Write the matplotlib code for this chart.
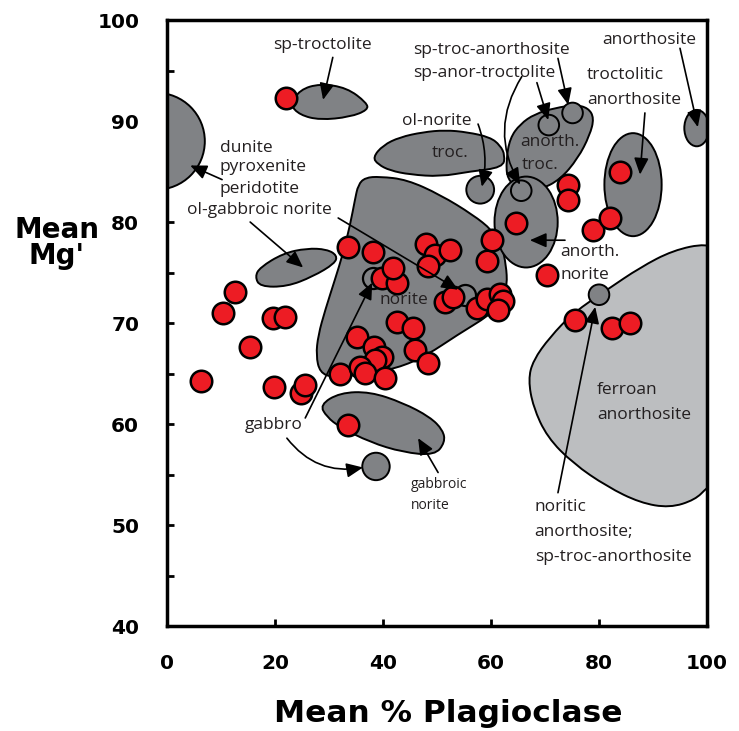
import numpy as np
import matplotlib
matplotlib.use('Agg')
from matplotlib import pyplot as plt
from matplotlib.path import Path
from matplotlib.patches import PathPatch, Ellipse

# red sample points: mean % plagioclase vs mean Mg'
plag = [22.1, 6.3, 10.4, 12.6, 15.4, 19.6, 21.9, 19.8, 24.8, 25.6, 32.0, 33.5,
        33.5, 38.1, 39.8, 42.6, 41.9, 35.2, 38.3, 39.8, 38.5, 35.7, 36.7, 40.4,
        42.6, 45.6, 45.9, 48.3, 48.0, 49.6, 52.4, 48.3, 51.5, 53.0, 57.4, 59.3,
        61.7, 62.2, 61.3, 59.3, 60.2, 64.6, 70.4, 74.3, 74.3, 78.9, 82.0, 83.9,
        75.6, 82.4, 85.7]
mg = [92.3, 64.3, 71.0, 73.1, 67.6, 70.5, 70.6, 63.7, 63.1, 63.9, 65.0, 59.9,
      77.5, 77.0, 74.5, 74.0, 75.4, 68.6, 67.6, 66.6, 66.3, 65.6, 65.1, 64.6,
      70.1, 69.5, 67.3, 66.0, 77.8, 76.7, 77.2, 75.6, 72.1, 72.6, 71.5, 72.4,
      72.9, 72.2, 71.3, 76.1, 78.2, 79.9, 74.8, 83.7, 82.2, 79.2, 80.4, 85.0,
      70.3, 69.5, 70.0]

# rock-type fields (outline vertices, data units)
ferroan_x = [100.0, 93.7, 87.6, 81.5, 75.2, 70.9, 67.8, 66.9, 67.8, 70.4, 75.2,
             81.5, 87.6, 93.1, 97.8, 100.0, 103, 103]
ferroan_y = [77.9, 77.2, 75.5, 73.3, 71.0, 68.6, 66.3, 64.4, 61.7, 58.7, 56.1,
             53.8, 52.2, 51.7, 52.5, 53.7, 55, 77]
norite_x = [35.4, 36.7, 39.4, 44.4, 50.6, 56.7, 60.2, 62.0, 62.8, 63.0, 62.2,
            59.8, 53.7, 48.1, 42.6, 35.7, 30.7, 28.3, 27.6, 28.0, 29.3, 31.1,
            32.6, 33.9, 34.8]
norite_y = [83.7, 84.4, 84.5, 84.2, 82.7, 80.7, 79.2, 77.7, 75.7, 73.8, 72.1,
            70.8, 68.8, 66.8, 65.5, 64.9, 64.6, 65.1, 66.8, 68.8, 71.3, 74.3,
            76.9, 79.7, 82.2]
troc_x = [38.1, 40.0, 43.1, 47.4, 51.5, 55.6, 59.8, 61.7, 62.6, 62.2, 56.1,
          50.6, 45.0, 41.3, 39.1]
troc_y = [86.4, 87.6, 88.4, 88.9, 89.1, 88.9, 88.4, 87.6, 86.6, 85.4, 85.0,
          84.5, 84.7, 85.1, 85.7]
antroc_x = [63.0, 62.8, 63.5, 65.4, 68.1, 71.9, 75.6, 78.0, 79.1, 78.3, 76.1,
            72.8, 69.1, 65.4]
antroc_y = [84.2, 86.1, 88.3, 89.7, 90.7, 91.3, 91.6, 91.3, 90.3, 88.6, 86.3,
            84.2, 83.2, 83.2]
sptroc_x = [22.8, 24.6, 28.3, 33.3, 37.0, 37.2, 33.9, 28.3, 24.6]
sptroc_y = [91.6, 93.1, 93.7, 93.3, 91.8, 91.1, 90.4, 90.1, 90.6]
olgab_x = [16.3, 17.2, 21.5, 25.9, 29.6, 31.5, 31.1, 27.0, 22.2, 17.2]
olgab_y = [74.6, 75.5, 76.9, 77.4, 77.3, 76.7, 75.9, 74.6, 73.6, 73.6]
gabnor_x = [28.3, 32.0, 37.6, 43.7, 48.7, 51.1, 51.5, 49.6, 43.7, 37.6, 32.0, 29.6]
gabnor_y = [61.9, 63.1, 63.2, 62.1, 60.7, 59.4, 58.2, 56.9, 57.2, 58.2, 59.7, 60.7]

# small circular fields: x, y, size
small_x = [58.0, 38.7, 80.0, 75.1, 70.7, 65.6]
small_y = [83.2, 55.8, 72.8, 90.8, 89.6, 83.1]
small_s = [400, 390, 220, 220, 220, 220]

dark = '#808285'
light = '#bcbec0'
red = '#ed1c24'


def smooth_patch(xs, ys, **kw):
    pts = np.column_stack([xs, ys])
    mids = (pts + np.roll(pts, -1, axis=0)) / 2
    verts = [mids[-1]]
    codes = [Path.MOVETO]
    for i in range(len(pts)):
        verts += [pts[i], mids[i]]
        codes += [Path.CURVE3, Path.CURVE3]
    return PathPatch(Path(verts, codes), **kw)


fig = plt.figure(figsize=(7.39, 7.31), dpi=100)
ax = fig.add_axes([0.226, 0.1436, 0.7307, 0.829])
ax.set_xlim(0, 100)
ax.set_ylim(40, 100)

kw = dict(edgecolor='black', linewidth=1.4, zorder=2)
ax.add_patch(smooth_patch(ferroan_x, ferroan_y, facecolor=light, **kw))
ax.add_patch(Ellipse((-2, 88), 18, 9.6, facecolor=dark, **kw))
ax.add_patch(smooth_patch(sptroc_x, sptroc_y, facecolor=dark, **kw))
ax.add_patch(smooth_patch(olgab_x, olgab_y, facecolor=dark, **kw))
ax.add_patch(smooth_patch(gabnor_x, gabnor_y, facecolor=dark, **kw))
ax.add_patch(smooth_patch(troc_x, troc_y, facecolor=dark, **kw))
ax.add_patch(smooth_patch(norite_x, norite_y, facecolor=dark, **kw))
ax.add_patch(smooth_patch(antroc_x, antroc_y, facecolor=dark, **kw))
ax.add_patch(Ellipse((66.5, 80.0), 11.7, 9.0, facecolor=dark, **kw))
ax.add_patch(Ellipse((86.3, 83.7), 10.6, 10.2, facecolor=dark, **kw))
ax.add_patch(Ellipse((98.1, 89.3), 4.6, 3.6, facecolor=dark, **kw))

ax.scatter(small_x, small_y, s=small_s, facecolor=dark, edgecolor='black',
           linewidth=1.4, zorder=3)
ax.scatter([38.1, 55.2], [74.5, 72.8], s=230, facecolor=dark,
           edgecolor='black', linewidth=1.6, zorder=3)
ax.scatter(plag, mg, s=240, facecolor=red, edgecolor='black', linewidth=1.8,
           zorder=4)

# arrows from labels to fields
arrows = [
    ((30.7, 96.3), (28.9, 92.1), 0),
    ((10.2, 84.2), (4.3, 85.6), 0),
    ((15.4, 80.0), (25.2, 75.5), 0),
    ((31.7, 80.4), (53.9, 73.3), 0),
    ((25.6, 60.6), (38.0, 74.0), 0),
    ((22.2, 58.6), (36.3, 55.7), 0.3),
    ((50.2, 55.2), (46.5, 58.6), 0),
    ((57.6, 89.7), (58.3, 83.5), -0.15),
    ((65.7, 94.4), (65.4, 83.7), 0.3),
    ((68.5, 93.8), (70.6, 90.1), 0),
    ((72.4, 96.2), (74.3, 91.6), 0),
    ((95.0, 97.2), (98.3, 89.4), 0),
    ((88.5, 90.8), (87.6, 84.7), 0),
    ((73.7, 78.2), (67.2, 78.2), 0),
    ((72.4, 53.2), (79.3, 71.6), 0),
]
for start, end, rad in arrows:
    ax.annotate('', xy=end, xytext=start, zorder=5,
                arrowprops=dict(arrowstyle='-|>,head_length=0.5,head_width=0.22',
                                color='black', lw=1.2, mutation_scale=20,
                                shrinkA=0, shrinkB=0,
                                connectionstyle='arc3,rad=%s' % rad))

tf = dict(family='Open Sans', fontsize=12.5, color='#231f20', va='center',
          zorder=6)
ax.text(28.7, 97.5, 'sp-troctolite', ha='center', **tf)
ax.text(45.6, 97.0, 'sp-troc-anorthosite', **tf)
ax.text(45.6, 94.8, 'sp-anor-troctolite', **tf)
ax.text(80.6, 98.0, 'anorthosite', **tf)
ax.text(77.8, 94.6, 'troctolitic', **tf)
ax.text(77.8, 92.1, 'anorthosite', **tf)
ax.text(43.5, 90.0, 'ol-norite', **tf)
ax.text(49.1, 86.8, 'troc.', **tf)
ax.text(65.4, 87.9, 'anorth.', **tf)
ax.text(65.7, 85.6, 'troc.', **tf)
ax.text(72.8, 77.0, 'anorth.', **tf)
ax.text(72.8, 74.8, 'norite', **tf)
ax.text(39.4, 72.3, 'norite', **tf)
ax.text(9.8, 87.3, 'dunite', **tf)
ax.text(9.8, 85.4, 'pyroxenite', **tf)
ax.text(9.8, 83.3, 'peridotite', **tf)
ax.text(3.7, 81.2, 'ol-gabbroic norite', **tf)
ax.text(14.4, 59.9, 'gabbro', **tf)
ax.text(79.6, 63.4, 'ferroan', **tf)
ax.text(79.6, 60.9, 'anorthosite', **tf)
ax.text(68.1, 51.8, 'noritic', **tf)
ax.text(68.1, 49.3, 'anorthosite;', **tf)
ax.text(68.1, 46.8, 'sp-troc-anorthosite', **tf)
tf['fontsize'] = 10
ax.text(45.2, 54.0, 'gabbroic', **tf)
ax.text(45.2, 51.9, 'norite', **tf)

# axes formatting
for sp in ax.spines.values():
    sp.set_linewidth(2.5)
ax.set_xticks([0, 20, 40, 60, 80, 100])
ax.set_yticks([40, 50, 60, 70, 80, 90, 100])
ax.set_yticks(np.arange(45, 100, 10), minor=True)
ax.tick_params(axis='both', which='both', direction='in', length=5, width=2,
               labelsize=14.5, pad=20)
for lab in ax.get_xticklabels() + ax.get_yticklabels():
    lab.set_fontweight('bold')

ax.set_xlabel('Mean % Plagioclase', fontsize=22.5, fontweight='bold',
              va='center')
ax.xaxis.set_label_coords(0.52, -0.145)
ax.set_ylabel("Mean\nMg'", fontsize=20, fontweight='bold', rotation=0,
              ha='center', va='center', linespacing=0.95)
ax.yaxis.set_label_coords(-0.204, 0.632)

plt.savefig('out.png', dpi=100)
